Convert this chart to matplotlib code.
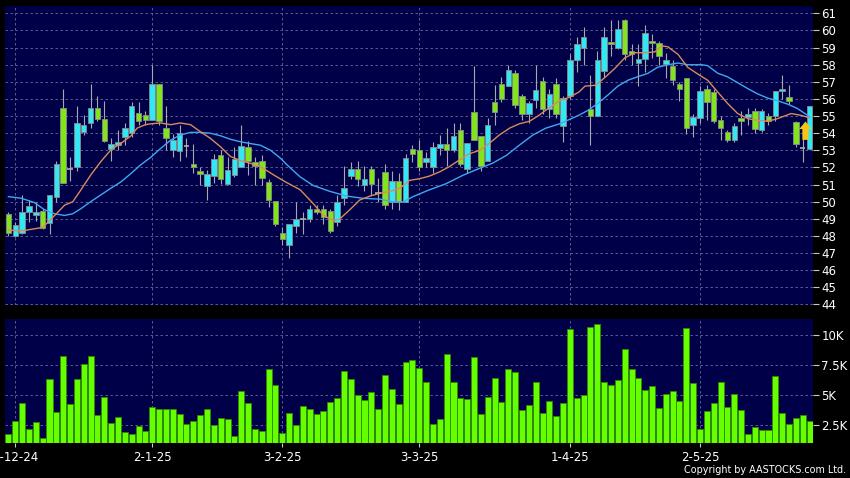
import numpy as np
import matplotlib.pyplot as plt

# daily candles (index 0 = first bar on the left)
opens = [49.27, 48.0, 48.15, 49.4, 49.2, 49.45, 48.75, 50.3, 55.5, 51.9,
         52.0, 54.1, 54.6, 55.5, 54.85, 53.1, 53.3, 53.8, 54.0, 55.2,
         55.05, 54.75, 56.85, 54.3, 53.05, 52.95, 53.25, 52.2, 51.8, 50.9,
         51.5, 52.75, 51.05, 51.55, 52.05, 53.2, 52.3, 52.4, 51.15, 50.05,
         48.15, 47.5, 48.6, 49.0, 49.0, 49.6, 49.6, 49.45, 48.8, 50.2,
         51.5, 51.9, 51.0, 51.9, 50.5, 51.75, 50.0, 51.2, 50.0, 53.1,
         53.0, 52.3, 52.05, 53.15, 53.4, 53.0, 54.2, 51.9, 55.25, 53.85,
         52.4, 55.8, 56.85, 56.75, 57.5, 56.15, 55.15, 55.95, 57.05, 55.4,
         56.9, 54.4, 56.2, 58.25, 59.0, 55.4, 55.0, 57.65, 59.35, 59.0,
         60.6, 58.8, 58.1, 58.35, 59.4, 59.25, 58.05, 57.95, 56.9, 57.2,
         54.5, 54.9, 56.6, 56.4, 54.8, 54.1, 53.6, 54.9, 54.95, 55.3,
         54.2, 55.0, 55.0, 56.45, 56.1, 54.65, 53.15, 53.1]
highs = [49.4, 48.8, 50.4, 50.1, 50.0, 49.6, 50.4, 52.4, 56.6, 52.6,
         55.6, 55.05, 56.9, 56.2, 55.9, 53.7, 54.2, 54.6, 55.8, 55.8,
         55.3, 58.0, 56.85, 55.6, 53.95, 54.5, 53.7, 53.4, 52.0, 51.85,
         52.8, 53.0, 52.6, 53.2, 54.5, 53.55, 52.6, 52.7, 51.35, 50.05,
         48.5, 48.7, 50.0, 49.4, 49.8, 49.8, 49.8, 49.6, 50.4, 52.1,
         52.3, 52.35, 52.1, 52.1, 51.4, 52.2, 51.8, 51.7, 52.8, 53.3,
         53.6, 52.9, 53.5, 53.9, 54.3, 54.6, 54.6, 53.45, 57.95, 53.85,
         54.9, 56.8, 57.3, 58.0, 57.7, 56.3, 55.9, 58.0, 57.3, 56.6,
         57.2, 56.2, 58.6, 59.6, 60.2, 57.4, 58.8, 60.2, 60.6, 60.6,
         60.7, 59.2, 59.2, 60.3, 59.8, 59.4, 58.7, 58.3, 57.0, 57.2,
         55.1, 56.75, 56.8, 56.6, 55.0, 54.2, 54.6, 55.3, 55.5, 55.5,
         55.4, 55.2, 56.45, 57.4, 56.8, 54.7, 53.7, 55.6]
lows = [48.0, 47.95, 48.1, 48.8, 48.9, 48.4, 48.1, 50.0, 51.1, 51.2,
        51.8, 53.9, 54.3, 54.7, 53.5, 52.4, 53.0, 53.3, 53.8, 54.5,
        54.5, 54.75, 54.5, 53.0, 52.6, 52.4, 52.6, 51.7, 51.0, 50.1,
        51.1, 51.05, 51.0, 51.45, 52.0, 51.55, 51.0, 51.0, 49.7, 48.6,
        47.5, 46.7, 48.2, 48.1, 48.8, 49.3, 48.7, 48.2, 48.6, 49.8,
        51.3, 50.9, 50.6, 50.4, 50.0, 49.6, 49.6, 49.5, 50.0, 52.3,
        51.8, 52.0, 51.7, 52.7, 52.1, 52.9, 52.1, 51.7, 53.6, 51.8,
        52.4, 54.5, 55.8, 56.75, 55.5, 54.8, 54.6, 55.5, 55.1, 54.9,
        54.9, 53.5, 56.0, 57.6, 58.0, 53.3, 55.0, 57.3, 58.5, 58.9,
        58.3, 58.0, 56.75, 57.6, 58.4, 58.0, 57.2, 56.8, 55.9, 53.95,
        53.8, 54.6, 54.8, 54.6, 53.6, 53.5, 53.5, 53.9, 54.5, 54.0,
        54.1, 54.5, 54.7, 56.0, 55.7, 53.2, 52.3, 53.1]
closes = [48.2, 48.66, 49.4, 49.75, 49.4, 48.45, 50.4, 52.2, 51.1, 51.9,
          54.6, 54.5, 55.5, 54.85, 53.55, 53.35, 53.5, 54.3, 55.6, 54.7,
          54.8, 56.85, 54.7, 53.7, 53.6, 54.0, 53.25, 52.0, 51.6, 51.6,
          52.5, 51.35, 51.85, 52.5, 53.25, 52.4, 52.1, 51.4, 50.1, 48.7,
          47.8, 48.7, 49.0, 49.0, 49.55, 49.4, 49.1, 48.3, 50.0, 50.8,
          51.9, 51.3, 51.35, 51.05, 50.5, 49.8, 51.2, 50.0, 52.55, 52.8,
          52.05, 52.55, 53.2, 53.4, 53.05, 53.85, 52.2, 53.45, 53.6, 52.1,
          54.5, 55.25, 56.0, 57.7, 55.65, 55.15, 55.75, 56.5, 55.4, 56.3,
          55.1, 56.05, 58.3, 59.2, 59.6, 55.0, 58.3, 59.6, 59.2, 60.1,
          58.6, 58.6, 58.35, 59.85, 59.25, 58.5, 58.3, 57.1, 56.6, 54.3,
          54.95, 56.45, 55.8, 54.7, 54.3, 53.6, 54.45, 54.7, 55.1, 54.25,
          55.3, 54.7, 56.45, 56.6, 55.9, 53.4, 53.15, 55.6]
volume = [1722, 2833, 4361, 2167, 2750, 1444, 6333, 3556, 8194, 4278,
          6333, 7583, 8222, 3333, 4806, 2667, 3167, 1917, 1722, 2417,
          1972, 3972, 3806, 3806, 3861, 3389, 2611, 2833, 3306, 3861,
          2472, 3083, 3000, 1583, 5333, 4333, 2194, 2000, 7167, 5778,
          1833, 3528, 2528, 4083, 3806, 3417, 3667, 4444, 4750, 6944,
          6333, 5000, 4583, 5222, 3806, 6611, 5500, 4250, 7722, 7889,
          7222, 6028, 2583, 2972, 8417, 6028, 4778, 4667, 8111, 3444,
          4833, 6389, 4417, 7111, 6917, 3750, 4167, 6083, 3500, 4500,
          3250, 4306, 10500, 4778, 4972, 10667, 10861, 6028, 5806, 6222,
          8778, 7139, 6361, 5361, 5722, 3917, 5056, 5278, 4472, 10528,
          5972, 2194, 3694, 4361, 6028, 3972, 5056, 3750, 1722, 2306,
          2056, 2111, 6556, 3472, 2583, 3111, 3333, 2833]

# moving average lines (bar position, price) as drawn on the chart
ma_short_x = [0, 2, 5, 6, 7, 8.2, 9.4, 10.6, 12, 13.5, 15, 16.4, 17.9, 18.8, 20,
              20.8, 22.2, 23.7, 25.1, 26.6, 28, 29.5, 31, 32.4, 33.9, 35.3, 36.8,
              38.8, 40.5, 42.6, 44.5, 46, 47.5, 48.4, 49.9, 51.3, 52.8, 54.3, 55.7,
              57.2, 58.6, 60.1, 61.5, 63, 64.4, 65.9, 67.3, 68.8, 70.2, 71.7, 73.2,
              74.6, 76.1, 77.5, 79, 80.5, 81.9, 83.3, 84.2, 85.7, 87.1, 88.6, 90,
              91.5, 93, 94.4, 95.4, 96.3, 97.8, 99.2, 100.7, 102.1, 103.6, 105,
              106.5, 108, 109.4, 110.9, 112.3, 114.3, 115.7, 117]
ma_short_y = [48.35, 48.3, 48.5, 48.9, 49.3, 49.8, 50.0, 50.7, 51.55, 52.35, 53.05,
              53.4, 53.85, 54.3, 54.5, 54.55, 54.6, 54.5, 54.6, 54.5, 54.1, 53.7,
              53.2, 52.65, 52.4, 52.25, 52.05, 51.55, 51.15, 50.7, 49.9, 49.2,
              48.9, 49.0, 49.55, 50.1, 50.33, 50.5, 50.6, 50.8, 51.25, 51.35,
              51.5, 51.75, 52.05, 52.45, 52.8, 53.0, 53.4, 53.9, 54.3, 54.55,
              54.7, 55.05, 55.5, 55.9, 56.1, 56.4, 56.75, 56.8, 57.25, 57.8,
              58.4, 58.7, 58.7, 58.75, 59.1, 59.05, 58.6, 57.85, 57.45, 57.1,
              56.4, 55.75, 55.15, 54.85, 54.75, 54.7, 54.85, 55.15, 55.05, 54.9]
ma_long_x = [0, 1.9, 3.8, 5.2, 6.7, 8.2, 9.4, 10.6, 12, 13.5, 15, 16.4, 17.9, 19.3,
             20.8, 22.2, 23.7, 25.1, 26.6, 28, 29.5, 31, 32.4, 33.9, 35.3, 36.8,
             38.3, 39.7, 40.7, 42.6, 44.5, 47, 49.4, 51.8, 54.3, 56.2, 57.7, 59.1,
             61.5, 63.9, 66.4, 68.8, 70.7, 72.7, 74.6, 76.6, 78.5, 80.5, 81.9,
             83.3, 84.7, 86.1, 87.6, 89, 90.5, 91.9, 93.4, 94.8, 96.3, 97.8, 99.2,
             101.2, 102.1, 103.6, 105, 106.5, 108, 109.4, 110.9, 112.3, 113.8,
             115.2, 116.7, 117]
ma_long_y = [50.3, 50.2, 49.95, 49.55, 49.3, 49.2, 49.3, 49.6, 50.0, 50.4, 50.8,
             51.15, 51.65, 52.15, 52.6, 53.1, 53.6, 53.9, 54.05, 54.05, 54.0,
             53.85, 53.65, 53.5, 53.4, 53.3, 53.0, 52.55, 52.15, 51.45, 50.95,
             50.6, 50.33, 50.2, 50.15, 50.0, 50.0, 50.3, 50.7, 51.05, 51.55,
             51.95, 52.25, 52.7, 53.3, 53.9, 54.3, 54.55, 54.8, 55.05, 55.35,
             55.75, 56.25, 56.75, 57.1, 57.3, 57.5, 57.85, 58.0, 58.1, 58.0,
             58.0, 57.95, 57.5, 57.3, 56.95, 56.6, 56.3, 56.05, 55.9, 55.7,
             55.45, 55.05, 54.95]

date_pos = [1, 21, 40, 60, 82, 101]
date_labels = ["2-12-24", "2-1-25", "3-2-25", "3-3-25", "1-4-25", "2-5-25"]
price_ticks = list(range(44, 62))
vol_ticks = [2500, 5000, 7500, 10000]
vol_labels = ["2.5K", "5K", "7.5K", "10K"]

bg = "#000048"
grid_kw = dict(color="#6a6a9a", linestyle=(0, (3, 3)), linewidth=0.6)

fig = plt.figure(figsize=(8.5, 4.78), dpi=100, facecolor="black")
ax = fig.add_axes([5 / 850, 1 - 305 / 478, 808 / 850, 299 / 478], facecolor=bg)
vax = fig.add_axes([5 / 850, 1 - 443 / 478, 808 / 850, 124 / 478], facecolor=bg)

x = np.arange(len(opens))
o = np.array(opens)
c = np.array(closes)
up = c > o
down = c < o
flat = c == o

# candles
ax.vlines(x, lows, highs, color="#a8a8a8", linewidth=0.8, zorder=2)
ax.bar(x[up], (c - o)[up], bottom=o[up], width=0.8, color="#33e8f5",
       edgecolor="#8a8a8a", linewidth=0.6, zorder=3)
ax.bar(x[down], (o - c)[down], bottom=c[down], width=0.8, color="#80e61a",
       edgecolor="#8a8a8a", linewidth=0.6, zorder=3)
ax.hlines(c[flat], x[flat] - 0.4, x[flat] + 0.4, color="#b0b0b0", linewidth=1.2, zorder=3)

ax.plot(ma_long_x, ma_long_y, color="#3fa8f0", linewidth=1.0, zorder=4)
ax.plot(ma_short_x, ma_short_y, color="#d98a5c", linewidth=1.0, zorder=4)

# buy signal arrow on the last bar
ax.annotate("", xy=(116.4, 54.85), xytext=(116.4, 53.45),
            arrowprops=dict(arrowstyle="simple,head_width=0.9,head_length=0.55,tail_width=0.45",
                            color="#f5c518", linewidth=0), zorder=5)

ax.set_xlim(-0.5, 117.5)
ax.set_ylim(43.97, 61.43)
ax.set_yticks(price_ticks)
ax.yaxis.tick_right()
ax.set_xticks(date_pos)
ax.set_xticklabels([])
ax.tick_params(axis="x", length=0)
ax.tick_params(axis="y", colors="#c8c8c8", labelcolor="white", labelsize=8.5,
               length=4, width=0.8, pad=2)
ax.grid(True, **grid_kw)

# volume
vax.bar(x, volume, width=0.88, color="#66ff00", edgecolor="#2e8a00", linewidth=0.6, zorder=3)
vax.set_xlim(-0.5, 117.5)
vax.set_ylim(1000, 11300)
vax.yaxis.tick_right()
vax.set_yticks(vol_ticks)
vax.set_yticklabels(vol_labels)
vax.set_xticks(date_pos)
vax.set_xticklabels(date_labels)
vax.tick_params(axis="y", colors="#c8c8c8", labelcolor="white", labelsize=8.5,
                length=4, width=0.8, pad=2)
vax.tick_params(axis="x", colors="#c8c8c8", labelcolor="white", labelsize=8.5,
                length=3, width=0.8, pad=3)
vax.grid(True, **grid_kw)

for a in (ax, vax):
    for s in a.spines.values():
        s.set_visible(False)
    a.set_axisbelow(True)

fig.text(846 / 850, 1 - 470 / 478, "Copyright by AASTOCKS.com Ltd.", color="white",
         fontsize=6.9, ha="right", va="center")

fig.savefig("out.png", dpi=100, facecolor="black")
